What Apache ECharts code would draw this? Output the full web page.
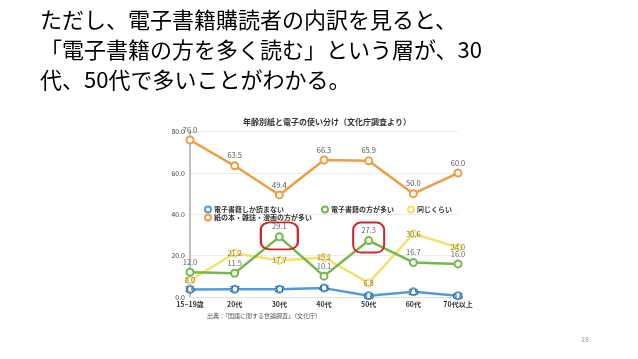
<!DOCTYPE html>
<html><head><meta charset="utf-8">
<script src="https://cdn.jsdelivr.net/npm/echarts@6/dist/echarts.min.js"></script>
<style>html,body{margin:0;padding:0;background:#fff}#c{width:638px;height:359px}</style>
</head><body><div id="c"></div>
<script>
const categories = ['15~19歳','20代','30代','40代','50代','60代','70代以上'];
const yTicks = [0, 20, 40, 60, 80];
const onlyDigital = [3.6, 3.7, 3.7, 4.3, 0.6, 2.5, 0.6];
const moreDigital = [12.0, 11.5, 29.1, 10.1, 27.3, 16.7, 16.0];
const same = [8.0, 21.2, 17.7, 19.1, 6.8, 30.6, 24.0];
const morePaper = [76.0, 63.5, 49.4, 66.3, 65.9, 50.0, 60.0];
const seriesNames = ['電子書籍しか読まない','電子書籍の方が多い','同じくらい','紙の本・雑誌・漫画の方が多い'];
const highlighted = [2, 4];

const FONT = '"Noto Sans CJK JP", "Noto Sans", sans-serif';
const colors = ['#4f9bdb', '#74b84b', '#f6df6a', '#ef9d45'];
const chart = echarts.init(document.getElementById('c'));

function mkSeries(name, data, color, labelPos, labelColor, z) {
  return {
    name, type: 'line', data, z,
    symbol: 'emptyCircle', symbolSize: 7,
    lineStyle: { color, width: 2.5 },
    itemStyle: { color, borderWidth: 2 },
    label: { show: true, position: labelPos, distance: 2, fontSize: 7.5, color: labelColor, fontFamily: FONT,
             formatter: p => p.value.toFixed(1) },
    emphasis: { disabled: true }
  };
}
const legendBase = { itemWidth: 6, itemHeight: 6, icon: 'emptyCircle', padding: 0,
  textStyle: { fontSize: 7, fontWeight: 'bold', color: '#333', fontFamily: FONT, padding: [0,0,0,-2] } };

const green = mkSeries(seriesNames[1], moreDigital, colors[1], 'top', '#666', 3);
green.markPoint = {
  symbol: 'roundRect', silent: true,
  itemStyle: { color: 'rgba(0,0,0,0)', borderColor: '#d4242b', borderWidth: 2 },
  label: { show: false },
  data: [
    { coord: [categories[highlighted[0]], moreDigital[highlighted[0]]], symbolSize: [37, 27], symbolOffset: [0, -1] },
    { coord: [categories[highlighted[1]], moreDigital[highlighted[1]]], symbolSize: [31, 30], symbolOffset: [0, -3] }
  ]
};

chart.setOption({
  animation: false,
  title: { text: '年齢別紙と電子の使い分け（文化庁調査より）', left: 322, textAlign: 'center', top: 113,
    textStyle: { fontSize: 8, fontWeight: 'bold', color: '#333', fontFamily: FONT } },
  legend: [
    Object.assign({ data: [seriesNames[0]], left: 204, top: 205.5 }, legendBase),
    Object.assign({ data: [seriesNames[1]], left: 321, top: 205.5 }, legendBase),
    Object.assign({ data: [seriesNames[2]], left: 407, top: 205.5 }, legendBase),
    Object.assign({ data: [seriesNames[3]], left: 204, top: 213.5 }, legendBase)
  ],
  grid: { left: 190, right: 180, top: 131.7, bottom: 62, containLabel: false },
  xAxis: { type: 'category', data: categories, boundaryGap: false,
    axisLine: { show: true, lineStyle: { color: '#e2e2e2' } }, axisTick: { show: false },
    axisLabel: { fontSize: 7, fontWeight: 'bold', color: '#333', margin: 4, fontFamily: FONT, interval: 0 } },
  yAxis: { type: 'value', min: yTicks[0], max: yTicks[yTicks.length-1], interval: 20,
    axisLine: { show: true, lineStyle: { color: '#aaa', width: 1.5 } }, axisTick: { show: false },
    splitLine: { lineStyle: { color: '#ececec' } },
    axisLabel: { fontSize: 7, color: '#444', margin: 5, fontFamily: FONT, formatter: v => v.toFixed(1) } },
  series: [
    mkSeries(seriesNames[3], morePaper, colors[3], 'top', '#555', 2),
    mkSeries(seriesNames[2], same, colors[2], 'inside', '#8a7a35', 2),
    green,
    mkSeries(seriesNames[0], onlyDigital, colors[0], 'inside', '#2a4a70', 4)
  ],
  graphic: [
    { type: 'text', left: 40, top: 9, style: { text: 'ただし、電子書籍購読者の内訳を見ると、', font: '22px ' + FONT, fill: '#000' } },
    { type: 'text', left: 40, top: 39, style: { text: '「電子書籍の方を多く読む」という層が、30', font: '22px ' + FONT, fill: '#000' } },
    { type: 'text', left: 40, top: 69, style: { text: '代、50代で多いことがわかる。', font: '22px ' + FONT, fill: '#000' } },
    { type: 'text', left: 207, top: 312.5, style: { text: '出典：「国語に関する世論調査」（文化庁）', font: '6px ' + FONT, fill: '#555' } },
    { type: 'text', left: 581, top: 336, style: { text: '18', font: '7px ' + FONT, fill: '#999' } }
  ]
});
</script></body></html>
